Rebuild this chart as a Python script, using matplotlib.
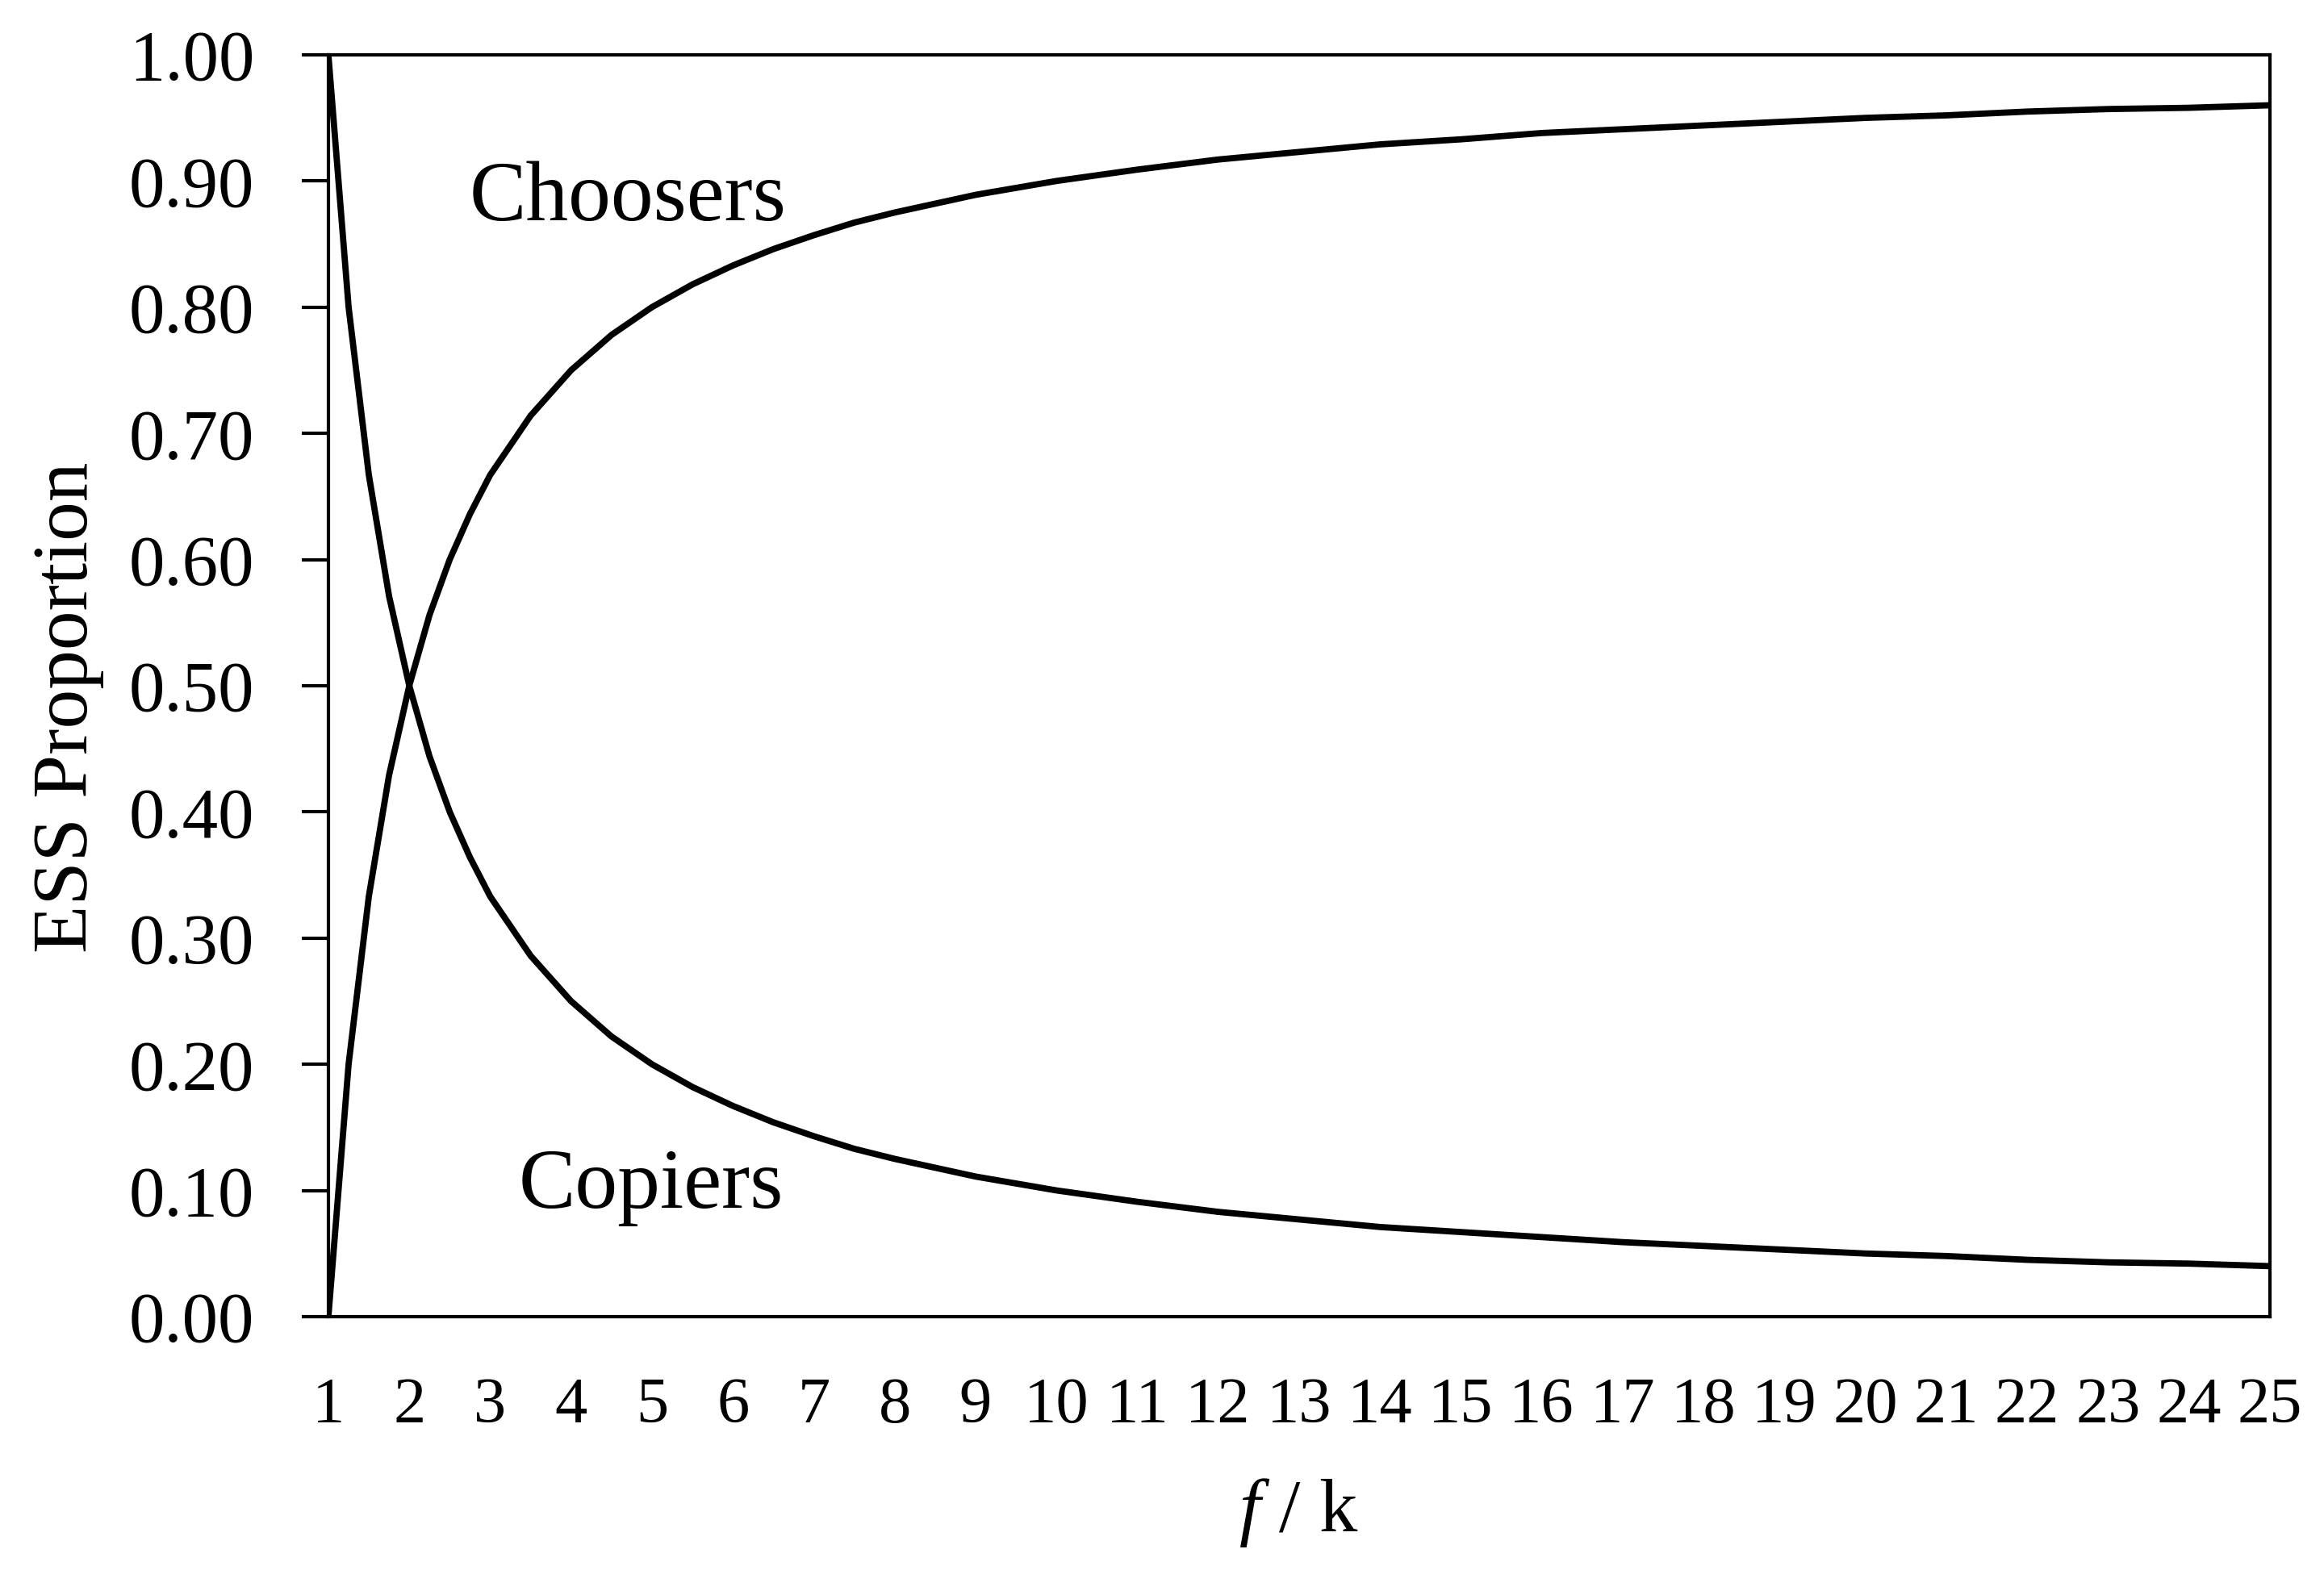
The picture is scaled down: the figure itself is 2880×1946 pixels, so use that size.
import numpy as np
from matplotlib import pyplot as plt

plt.rcParams["font.family"] = ["Liberation Serif", "DejaVu Serif"]
plt.rcParams["mathtext.fontset"] = "custom"
plt.rcParams["mathtext.it"] = "Liberation Serif:italic"
plt.rcParams["mathtext.rm"] = "Liberation Serif"

# f / k ratio (denser near 1 where the curves bend sharply)
ratio = [1, 1.25, 1.5, 1.75, 2, 2.25, 2.5, 2.75, 3, 3.5, 4, 4.5, 5, 5.5, 6,
         6.5, 7, 7.5, 8, 9, 10, 11, 12, 13, 14, 15, 16, 17, 18, 19, 20, 21,
         22, 23, 24, 25]

copiers = [1.000, 0.800, 0.667, 0.571, 0.500, 0.444, 0.400, 0.364, 0.333,
           0.286, 0.250, 0.222, 0.200, 0.182, 0.167, 0.154, 0.143, 0.133,
           0.125, 0.111, 0.100, 0.091, 0.083, 0.077, 0.071, 0.067, 0.063,
           0.059, 0.056, 0.053, 0.050, 0.048, 0.045, 0.043, 0.042, 0.040]

choosers = [0.000, 0.200, 0.333, 0.429, 0.500, 0.556, 0.600, 0.636, 0.667,
            0.714, 0.750, 0.778, 0.800, 0.818, 0.833, 0.846, 0.857, 0.867,
            0.875, 0.889, 0.900, 0.909, 0.917, 0.923, 0.929, 0.933, 0.938,
            0.941, 0.944, 0.947, 0.950, 0.952, 0.955, 0.957, 0.958, 0.960]

x_ticks = list(range(1, 26))
y_ticks = [0.0, 0.1, 0.2, 0.3, 0.4, 0.5, 0.6, 0.7, 0.8, 0.9, 1.0]

fig = plt.figure(figsize=(14.4, 9.73), dpi=200)
ax = fig.add_axes([0.1413, 0.1614, 0.9767 - 0.1413, 0.9651 - 0.1614])

ax.plot(ratio, copiers, color="black", linewidth=2.8)
ax.plot(ratio, choosers, color="black", linewidth=2.8)

ax.text(2.74, 0.869, "Choosers", fontsize=38, ha="left", va="baseline")
ax.text(3.35, 0.086, "Copiers", fontsize=38, ha="left", va="baseline")

ax.set_xlim(1, 25)
ax.set_ylim(0, 1)
ax.set_xticks(x_ticks)
ax.set_xticklabels([str(t) for t in x_ticks])
ax.set_yticks(y_ticks)
ax.set_yticklabels([f"{t:.2f}" for t in y_ticks])
ax.tick_params(axis="y", direction="out", length=12, width=1.5, labelsize=32, pad=21)
ax.tick_params(axis="x", length=0, labelsize=29, pad=27)

for s in ax.spines.values():
    s.set_linewidth(1.5)
    s.set_color("black")

ax.set_ylabel("ESS Proportion", fontsize=35, labelpad=11)
ax.yaxis.label.set_y(0.483)
ax.set_xlabel(r"$\mathit{f}$ / k", fontsize=34, labelpad=18)

fig.savefig("out.png", dpi=200)
